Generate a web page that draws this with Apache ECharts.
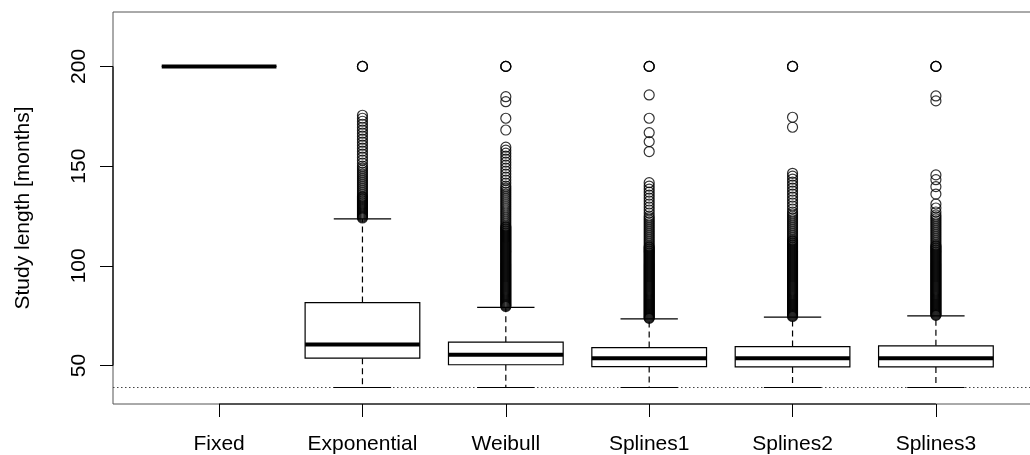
<!DOCTYPE html>
<html>
<head>
<meta charset="utf-8">
<script src="https://cdn.jsdelivr.net/npm/echarts@6/dist/echarts.min.js"></script>
<style>
html,body{margin:0;padding:0;background:#fff;overflow:hidden;}
#chart{width:1030px;height:455px;}
</style>
</head>
<body>
<div id="chart"></div>
<script>
// ---- data ----
const categories = ['Fixed', 'Exponential', 'Weibull', 'Splines1', 'Splines2', 'Splines3'];
const whiskerLow  = [200, 39, 39, 39, 39, 39];
const quartile1   = [200, 53.7, 50.4, 49.5, 49.3, 49.3];
const medians     = [200, 60.5, 55.4, 53.7, 53.7, 53.7];
const quartile3   = [200, 81.6, 61.7, 59.0, 59.5, 59.9];
const whiskerHigh = [200, 123.5, 79.2, 73.4, 74.3, 74.9];

const outFixed = [];
const outExponential = [200, 200, 200, 175.5, 174, 172.5, 171, 169.5, 168, 166.5, 165, 163.5, 162, 160.5, 159, 157.5, 156, 154.5, 153, 151.5, 150, 149, 148, 147, 146, 145, 144, 143, 142, 141, 140, 139, 138, 137, 136, 135, 134.5, 134, 133.5, 133, 132.5, 132, 131.5, 131, 130.5, 130, 129.5, 129, 128.5, 128, 127.5, 127, 126.5, 126, 125.5, 125, 124.5, 124];
const outWeibull = [200, 200, 200, 184.8, 182.3, 174, 168.1, 159.5, 158, 156.5, 155, 153.5, 152, 150.5, 149, 147.5, 146, 144.5, 143, 141.5, 140, 139, 138, 137, 136, 135, 134, 133, 132, 131, 130, 129, 128, 127, 126, 125, 124, 123, 122, 121, 120, 119.5, 119, 118.5, 118, 117.5, 117, 116.5, 116, 115.5, 115, 114.5, 114, 113.5, 113, 112.5, 112, 111.5, 111, 110.5, 110, 109.5, 109, 108.5, 108, 107.5, 107, 106.5, 106, 105.5, 105, 104.5, 104, 103.5, 103, 102.5, 102, 101.5, 101, 100.5, 100, 99.5, 99, 98.5, 98, 97.5, 97, 96.5, 96, 95.5, 95, 94.5, 94, 93.5, 93, 92.5, 92, 91.5, 91, 90.5, 90, 89.5, 89, 88.5, 88, 87.5, 87, 86.5, 86, 85.5, 85, 84.5, 84, 83.5, 83, 82.5, 82, 81.5, 81, 80.5, 80, 79.6];
const outSplines1 = [200, 200, 200, 185.7, 174, 166.8, 162.3, 157.3, 141.7, 140, 138.5, 137, 135.5, 134, 132.5, 131, 129.5, 128, 126.5, 125, 124, 123, 122, 121, 120, 119, 118, 117, 116, 115, 114, 113, 112, 111, 110, 109.5, 109, 108.5, 108, 107.5, 107, 106.5, 106, 105.5, 105, 104.5, 104, 103.5, 103, 102.5, 102, 101.5, 101, 100.5, 100, 99.5, 99, 98.5, 98, 97.5, 97, 96.5, 96, 95.5, 95, 94.5, 94, 93.5, 93, 92.5, 92, 91.5, 91, 90.5, 90, 89.5, 89, 88.5, 88, 87.5, 87, 86.5, 86, 85.5, 85, 84.5, 84, 83.5, 83, 82.5, 82, 81.5, 81, 80.5, 80, 79.5, 79, 78.5, 78, 77.5, 77, 76.5, 76, 75.5, 75, 74.5, 74, 73.7];
const outSplines2 = [200, 200, 200, 174.5, 169.5, 146.4, 145, 143.5, 142, 140.5, 139, 137.5, 136, 134.5, 133, 131.5, 130, 128.5, 127, 126, 125, 124, 123, 122, 121, 120, 119, 118, 117, 116, 115, 114, 113, 112.5, 112, 111.5, 111, 110.5, 110, 109.5, 109, 108.5, 108, 107.5, 107, 106.5, 106, 105.5, 105, 104.5, 104, 103.5, 103, 102.5, 102, 101.5, 101, 100.5, 100, 99.5, 99, 98.5, 98, 97.5, 97, 96.5, 96, 95.5, 95, 94.5, 94, 93.5, 93, 92.5, 92, 91.5, 91, 90.5, 90, 89.5, 89, 88.5, 88, 87.5, 87, 86.5, 86, 85.5, 85, 84.5, 84, 83.5, 83, 82.5, 82, 81.5, 81, 80.5, 80, 79.5, 79, 78.5, 78, 77.5, 77, 76.5, 76, 75.5, 75, 74.6];
const outSplines3 = [200, 200, 200, 185.2, 182.7, 145.6, 143.2, 139.7, 136, 131, 129, 127, 125.5, 124.5, 123.5, 122.5, 121.5, 120.5, 119.5, 118.5, 117.5, 116.5, 115.5, 114.5, 113.5, 112.5, 111.5, 110.5, 110, 109.5, 109, 108.5, 108, 107.5, 107, 106.5, 106, 105.5, 105, 104.5, 104, 103.5, 103, 102.5, 102, 101.5, 101, 100.5, 100, 99.5, 99, 98.5, 98, 97.5, 97, 96.5, 96, 95.5, 95, 94.5, 94, 93.5, 93, 92.5, 92, 91.5, 91, 90.5, 90, 89.5, 89, 88.5, 88, 87.5, 87, 86.5, 86, 85.5, 85, 84.5, 84, 83.5, 83, 82.5, 82, 81.5, 81, 80.5, 80, 79.5, 79, 78.5, 78, 77.5, 77, 76.5, 76, 75.5, 75.2];
const outliers = [outFixed, outExponential, outWeibull, outSplines1, outSplines2, outSplines3];

const refLine = 39;
const yTicks = [50, 100, 150, 200];
const yRange = [30.72, 227.28];
const xRange = [0.26, 6.74];

// ---- build chart ----
const positions = categories.map((c, i) => i + 1);
const boxData = categories.map((c, i) => [i + 1, whiskerLow[i], quartile1[i], medians[i], quartile3[i], whiskerHigh[i]]);
const outlierData = [];
outliers.forEach((arr, i) => arr.forEach(v => outlierData.push([i + 1, v])));

const FONT = 'Liberation Sans';
const chart = echarts.init(document.getElementById('chart'), null, {renderer: 'canvas'});

chart.setOption({
  backgroundColor: '#ffffff',
  animation: false,
  grid: {left: 113, top: 12, bottom: 51, width: 929, containLabel: false, outerBoundsMode: 'none',
    show: true, borderColor: '#555', borderWidth: 1, backgroundColor: 'transparent'},
  xAxis: {
    type: 'value', min: xRange[0], max: xRange[1],
    splitLine: {show: false},
    axisLine: {show: false},
    axisTick: {show: true, customValues: positions, length: 13, lineStyle: {color: '#000', width: 1}},
    axisLabel: {show: true, customValues: positions, margin: 30, color: '#000', fontSize: 21, fontFamily: FONT,
      formatter: v => categories[Math.round(v) - 1] || ''}
  },
  yAxis: {
    type: 'value', min: yRange[0], max: yRange[1],
    name: 'Study length [months]', nameLocation: 'middle', nameGap: 79, nameRotate: 90,
    nameTextStyle: {color: '#000', fontSize: 21, fontFamily: FONT},
    splitLine: {show: false},
    axisLine: {show: false},
    axisTick: {show: true, customValues: yTicks, length: 13, lineStyle: {color: '#000', width: 1}},
    axisLabel: {show: true, customValues: yTicks, rotate: 90, margin: 23, color: '#000', fontSize: 21, fontFamily: FONT}
  },
  series: [
    {
      type: 'line', silent: true, symbol: 'none', clip: false, z: 1,
      data: [[xRange[0], refLine], [xRange[1], refLine]],
      lineStyle: {color: '#444', width: 1.2, type: [1.5, 2.5]}
    },
    {
      type: 'line', silent: true, symbol: 'none', clip: false, z: 5,
      data: [[positions[0], yRange[0]], [positions[positions.length - 1], yRange[0]]],
      lineStyle: {color: '#000', width: 1.2}
    },
    {
      type: 'line', silent: true, symbol: 'none', clip: false, z: 5,
      data: [[xRange[0], yTicks[0]], [xRange[0], yTicks[yTicks.length - 1]]],
      lineStyle: {color: '#000', width: 1.2}
    },
    {
      type: 'custom', silent: true, z: 3,
      data: boxData,
      renderItem: function (params, api) {
        const x = api.value(0);
        const pLo = api.coord([x, api.value(1)]);
        const pQ1 = api.coord([x, api.value(2)]);
        const pMed = api.coord([x, api.value(3)]);
        const pQ3 = api.coord([x, api.value(4)]);
        const pHi = api.coord([x, api.value(5)]);
        const halfW = api.size([0.4, 0])[0];
        const capW = halfW / 2;
        const cx = pMed[0];
        const solid = {stroke: '#000', lineWidth: 1.2, fill: null};
        const dashed = {stroke: '#000', lineWidth: 1.2, lineDash: [6, 4], fill: null};
        const children = [];
        if (pHi[1] < pQ3[1]) children.push({type: 'line', shape: {x1: cx, y1: pQ3[1], x2: cx, y2: pHi[1]}, style: dashed});
        if (pLo[1] > pQ1[1]) children.push({type: 'line', shape: {x1: cx, y1: pQ1[1], x2: cx, y2: pLo[1]}, style: dashed});
        children.push({type: 'line', shape: {x1: cx - capW, y1: pHi[1], x2: cx + capW, y2: pHi[1]}, style: solid});
        children.push({type: 'line', shape: {x1: cx - capW, y1: pLo[1], x2: cx + capW, y2: pLo[1]}, style: solid});
        children.push({type: 'rect', shape: {x: cx - halfW, y: pQ3[1], width: 2 * halfW, height: pQ1[1] - pQ3[1]},
          style: {fill: '#fff', stroke: '#000', lineWidth: 1.2}});
        children.push({type: 'line', shape: {x1: cx - halfW, y1: pMed[1], x2: cx + halfW, y2: pMed[1]},
          style: {stroke: '#000', lineWidth: 4}});
        return {type: 'group', children: children};
      }
    },
    {
      type: 'scatter', silent: true, z: 4,
      data: outlierData,
      symbol: 'circle', symbolSize: 10,
      itemStyle: {color: 'rgba(0,0,0,0)', borderColor: '#000', borderWidth: 1.2}
    }
  ]
});
</script>
</body>
</html>
